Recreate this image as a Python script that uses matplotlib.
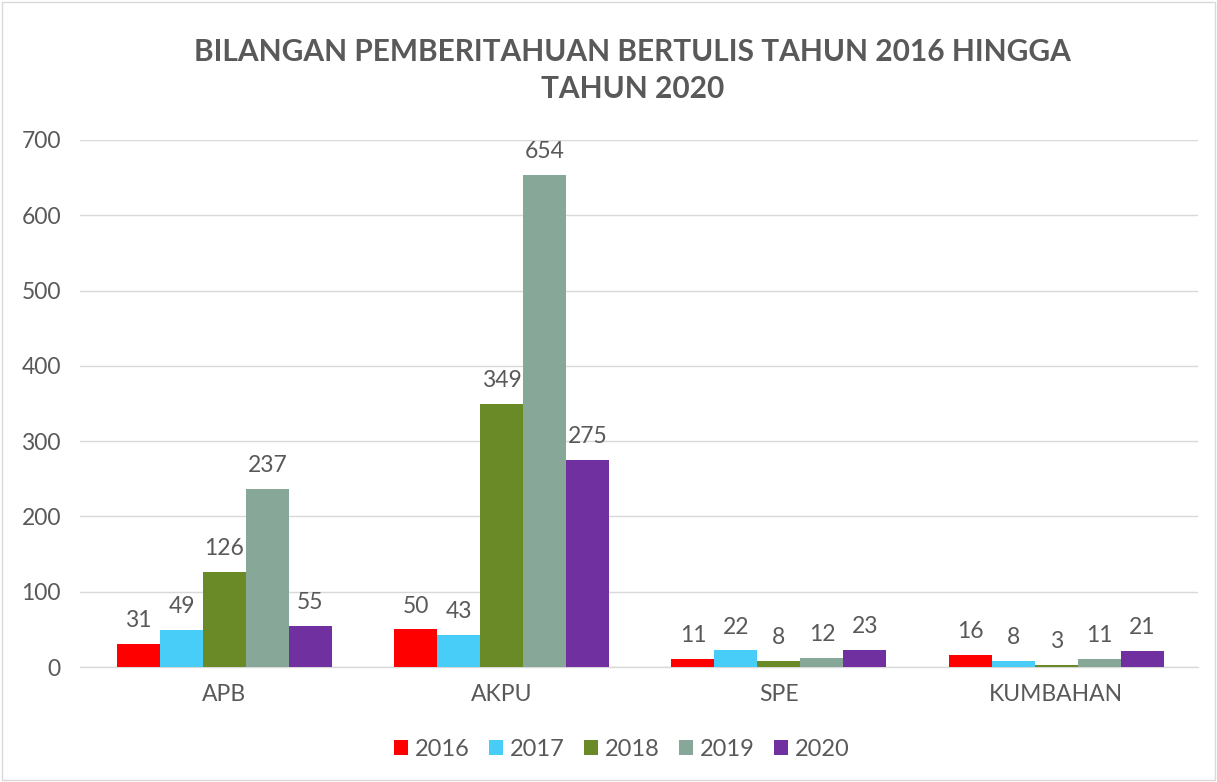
import matplotlib
matplotlib.use("Agg")
import matplotlib.pyplot as plt
import numpy as np
from matplotlib.patches import Rectangle

categories = ["APB", "AKPU", "SPE", "KUMBAHAN"]
years = ["2016", "2017", "2018", "2019", "2020"]
values = {
    "2016": [31, 50, 11, 16],
    "2017": [49, 43, 22, 8],
    "2018": [126, 349, 8, 3],
    "2019": [237, 654, 12, 11],
    "2020": [55, 275, 23, 21],
}
colors = ["#FF0000", "#47CDF8", "#6A8A28", "#87A898", "#7030A0"]
yticks = [0, 100, 200, 300, 400, 500, 600, 700]

plt.rcParams['font.family'] = ['Lato', 'DejaVu Sans']
txt = "#595959"

fig = plt.figure(figsize=(12.17, 7.82), dpi=100)
fig.patches.append(Rectangle((0.002, 0.002), 0.996, 0.996, transform=fig.transFigure,
                             fill=False, edgecolor="#D9D9D9", linewidth=1))
ax = fig.add_axes([0.066, 0.147, 0.918, 0.674])

x = np.arange(len(categories))
w = 0.155
for i, (yr, c) in enumerate(zip(years, colors)):
    pos = x + (i - 2) * w
    bars = ax.bar(pos, values[yr], width=w, color=c, label=yr, zorder=3)
    for b, v in zip(bars, values[yr]):
        ax.text(b.get_x() + b.get_width() / 2, v + 17, str(v), ha="center", va="bottom",
                fontsize=16.5, color=txt)

ax.set_ylim(0, 700)
ax.set_yticks(yticks)
ax.set_xlim(-0.52, 3.51)
ax.set_xticks(x)
ax.set_xticklabels(categories)
ax.tick_params(axis="both", length=0, labelsize=16.5, labelcolor=txt)
ax.tick_params(axis="x", pad=12)
ax.tick_params(axis="y", pad=14)
ax.grid(axis="y", color="#D9D9D9", linewidth=1, zorder=0)
for s in ["top", "right", "left"]:
    ax.spines[s].set_visible(False)
ax.spines["bottom"].set_color("#D9D9D9")
ax.spines["bottom"].set_linewidth(1)

fig.text(0.52, 0.91, "BILANGAN PEMBERITAHUAN BERTULIS TAHUN 2016 HINGGA\nTAHUN 2020",
         ha="center", va="center", fontsize=21.5, fontweight="bold", color=txt, linespacing=1.4)

fig.legend(loc="center", bbox_to_anchor=(0.511, 0.042), ncol=5, frameon=False,
           fontsize=17, labelcolor=txt, handlelength=0.6, handleheight=0.6,
           handletextpad=0.3, columnspacing=0.8)

fig.savefig("out.png", dpi=100)
